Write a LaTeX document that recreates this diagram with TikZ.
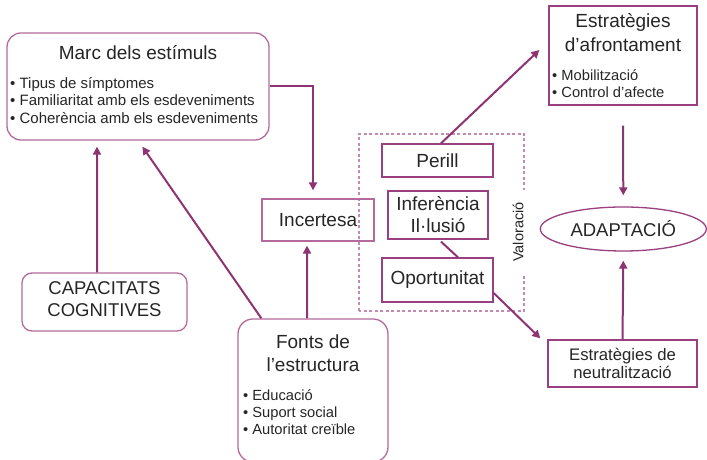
\documentclass[tikz,border=0pt]{standalone}
\usepackage{fontspec}
\setmainfont{Liberation Sans}
\usetikzlibrary{arrows.meta,shapes.geometric}
\definecolor{arrc}{HTML}{8E3473}
\definecolor{dboxc}{HTML}{9A3F7F}
\definecolor{lboxc}{HTML}{B46A9C}
\definecolor{dashc}{HTML}{C58AB2}
\definecolor{tc}{HTML}{262626}
\begin{document}
\begin{tikzpicture}[x=1bp,y=1bp,
  txt/.style={text=tc, inner sep=0pt, align=center},
  lft/.style={text=tc, inner sep=0pt, align=left, anchor=west},
  big/.style={font=\fontsize{19bp}{23bp}\selectfont},
  mid/.style={font=\fontsize{17bp}{19bp}\selectfont},
  small/.style={font=\fontsize{15bp}{17.3bp}\selectfont},
  lbox/.style={draw=lboxc, line width=1.3bp, rounded corners=14bp, inner sep=0pt},
  sbox/.style={draw=dboxc, line width=1.3bp, inner sep=0pt, text=tc, align=center},
  arr/.style={draw=arrc, line width=2bp, -{Triangle[length=8bp,width=8bp]}},
  ln/.style={draw=arrc, line width=2bp}]
\useasboundingbox (0,0) rectangle (707,460);
\fill[white] (0,0) rectangle (707,460);

% dashed valoracio frame
\draw[dashc, line width=1.2bp, dash pattern=on 3bp off 2.5bp] (359,149) rectangle (524,326);

% Marc dels estimuls
\node[lbox, minimum width=262bp, minimum height=107bp] (marc) at (138,373.5) {};
\node[txt, big] (marct) at (138,407) {Marc dels estímuls};
\node[lft, small] (marcb) at (10,359.5) {• Tipus de símptomes\\• Familiaritat amb els esdeveniments\\• Coherència amb els esdeveniments};

% Capacitats
\node[lbox, rounded corners=10bp, minimum width=165bp, minimum height=58bp] (capac) at (104.5,158) {};
\node[txt, font=\fontsize{18.5bp}{22bp}\selectfont] (capact) at (104.5,161) {CAPACITATS\\COGNITIVES};

% Fonts de l'estructura
\node[lbox, rounded corners=15bp, minimum width=150bp, minimum height=143bp] (fonts) at (313,69.5) {};
\node[txt, big] (fontst) at (313,106.5) {Fonts de\\l’estructura};
\node[lft, small, font=\fontsize{14.7bp}{17bp}\selectfont] (fontsb) at (243,48) {• Educació\\• Suport social\\• Autoritat creïble};

% Incertesa
\node[draw=lboxc, line width=1.3bp, inner sep=0pt, minimum width=112bp, minimum height=42bp, txt, big] (incert) at (318,240) {Incertesa};

% Valoracio boxes
\node[sbox, big, minimum width=111bp, minimum height=33bp] (perill) at (437.5,299.5) {Perill};
\node[sbox, font=\fontsize{19bp}{22bp}\selectfont, minimum width=100bp, minimum height=48bp] (infer) at (438,245) {Inferència\\Il·lusió};
\node[sbox, big, minimum width=111bp, minimum height=44bp] (oport) at (437.5,180) {Oportunitat};
\node[txt, fill=white, rotate=90, font=\fontsize{14.5bp}{16bp}\selectfont, inner xsep=12bp, inner ysep=3bp] (valor) at (518,228) {Valoració};

% Estrategies d'afrontament
\node[sbox, minimum width=148bp, minimum height=99bp] (afr) at (623,404.5) {};
\node[txt, font=\fontsize{19bp}{24bp}\selectfont] (afrt) at (623,427) {Estratègies\\d’afrontament};
\node[lft, font=\fontsize{14.7bp}{17bp}\selectfont] (afrb) at (552,376.5) {• Mobilització\\• Control d’afecte};

% Adaptacio
\node[draw=dboxc, line width=1.3bp, ellipse, inner sep=0pt, minimum width=166bp, minimum height=44bp, txt, font=\fontsize{18.5bp}{22bp}\selectfont] (adapt) at (623.3,231) {ADAPTACIÓ};

% Estrategies de neutralitzacio
\node[sbox, minimum width=149bp, minimum height=47bp, font=\fontsize{16.7bp}{18.5bp}\selectfont] (neut) at (622.5,96.5) {Estratègies de\\neutralització};

% connectors
\draw[arr] (marc.east) -| ([xshift=-5bp,yshift=8bp]incert.north);
\draw[arr] ([xshift=-6bp]fonts.north) -- ([xshift=-11bp,yshift=-4bp]incert.south);
\draw[arr] ([xshift=24bp]fonts.north west) -- ([shift={(136bp,-6bp)}]marc.south west);
\draw[arr] ([xshift=-7.5bp]capac.north) -- ([xshift=-41bp,yshift=-6bp]marc.south);
\draw[arr] ([xshift=3.5bp]perill.north) -- ([shift={(-9bp,5.5bp)}]afr.west);
\draw[arr] ([yshift=-20bp]afr.south) -- ([yshift=11bp]adapt.north);
\draw[arr] (neut.north) -- ([yshift=-9bp]adapt.south);
\draw[arr] ([yshift=-13bp]oport.east) -- ([shift={(-7bp,1bp)}]neut.north west);
\draw[ln] ([shift={(3bp,-2bp)}]infer.south) -- ([xshift=20.5bp]oport.north);
\end{tikzpicture}
\end{document}
